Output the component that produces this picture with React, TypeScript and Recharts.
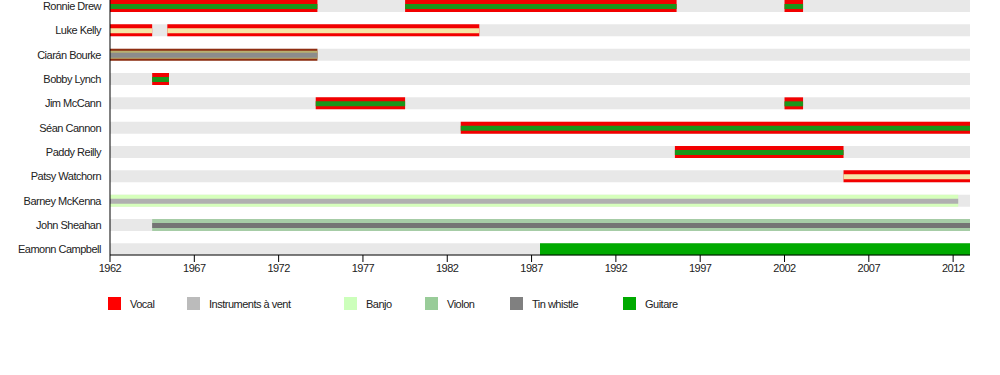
import React from "react";
import { Bar, BarChart, Cell, XAxis, YAxis } from "recharts";

// members, top to bottom
const members = [
  "Ronnie Drew",
  "Luke Kelly",
  "Ciarán Bourke",
  "Bobby Lynch",
  "Jim McCann",
  "Séan Cannon",
  "Paddy Reilly",
  "Patsy Watchorn",
  "Barney McKenna",
  "John Sheahan",
  "Eamonn Campbell",
];

// years in the band (start, end), up to three stints per member
const firstStint: ([number, number] | null)[] = [
  [1962, 1974.3],
  [1962, 1964.5],
  [1962, 1974.3],
  [1964.5, 1965.5],
  [1974.2, 1979.5],
  [1982.8, 2013],
  [1995.5, 2005.5],
  [2005.5, 2013],
  [1962, 2012.3],
  [1964.5, 2013],
  [1987.5, 2013],
];
const secondStint: ([number, number] | null)[] = [
  [1979.5, 1995.6],
  [1965.4, 1983.9],
  null,
  null,
  [2002, 2003.1],
  null,
  null,
  null,
  null,
  null,
  null,
];
const thirdStint: ([number, number] | null)[] = [
  [2002, 2003.1],
  null, null, null, null, null, null, null, null, null, null,
];

const timeSpan: [number, number] = [1962, 2013];
const yearTicks = [1962, 1967, 1972, 1977, 1982, 1987, 1992, 1997, 2002, 2007, 2012];

const legendItems = ["Vocal", "Instruments à vent", "Banjo", "Violon", "Tin whistle", "Guitare"];
const legendColors = ["#ff0000", "#bbbbbb", "#ccffbb", "#99cc99", "#808080", "#00aa00"];

// bar colours per member: outer / middle / inner stripe
const ROW_STYLE: Record<string, { outer: string; mid?: string; inner?: string }> = {
  "Ronnie Drew": { outer: "#f20000", inner: "#1a961a" },
  "Luke Kelly": { outer: "#f20000", inner: "#f5e6a8" },
  "Ciarán Bourke": { outer: "#8e2e12", mid: "#b8b070", inner: "#8c8c8c" },
  "Bobby Lynch": { outer: "#f20000", inner: "#1a961a" },
  "Jim McCann": { outer: "#f20000", inner: "#1a961a" },
  "Séan Cannon": { outer: "#f20000", inner: "#1a961a" },
  "Paddy Reilly": { outer: "#f20000", inner: "#1a961a" },
  "Patsy Watchorn": { outer: "#f20000", inner: "#f5e6a8" },
  "Barney McKenna": { outer: "#d6ffbc", inner: "#b0b0b0" },
  "John Sheahan": { outer: "#a6cca6", inner: "#747474" },
  "Eamonn Campbell": { outer: "#00aa00" },
};

const LEGEND_WIDTHS = [79, 157, 81, 85, 113, 80];
const FONT = "'Liberation Sans', Arial, sans-serif";

const rows = members.map((name, i) => ({
  name,
  bg: timeSpan,
  o1: firstStint[i] ?? undefined,
  o2: secondStint[i] ?? undefined,
  o3: thirdStint[i] ?? undefined,
  m1: ROW_STYLE[name].mid ? firstStint[i] ?? undefined : undefined,
  i1: ROW_STYLE[name].inner ? firstStint[i] ?? undefined : undefined,
  i2: ROW_STYLE[name].inner ? secondStint[i] ?? undefined : undefined,
  i3: ROW_STYLE[name].inner ? thirdStint[i] ?? undefined : undefined,
}));

const LAYERS: { key: string; size: number; part: "bg" | "outer" | "mid" | "inner" }[] = [
  { key: "bg", size: 12, part: "bg" },
  { key: "o1", size: 12, part: "outer" },
  { key: "o2", size: 12, part: "outer" },
  { key: "o3", size: 12, part: "outer" },
  { key: "m1", size: 8, part: "mid" },
  { key: "i1", size: 5, part: "inner" },
  { key: "i2", size: 5, part: "inner" },
  { key: "i3", size: 5, part: "inner" },
];

const yPadding = { top: 0, bottom: -6.7 };

// plain svg label, no wrapping
function MemberTick(props: any) {
  const { x, y, payload } = props;
  return (
    <text
      x={x}
      y={y}
      dy="0.355em"
      textAnchor="end"
      fontSize={11}
      fill="#222"
      letterSpacing={-0.5}
      fontFamily={FONT}
    >
      {payload.value}
    </text>
  );
}

export default function App() {
  return (
    <div
      style={{
        position: "absolute",
        left: 0,
        top: 0,
        width: 1000,
        height: 375,
        overflow: "hidden",
        background: "#fff",
        fontFamily: FONT,
      }}
    >
      <div style={{ position: "absolute", left: 0, top: -20 }}>
        <BarChart
          width={1000}
          height={310}
          data={rows}
          layout="vertical"
          margin={{ top: 14, right: 30, bottom: 5, left: 0 }}
        >
          <XAxis
            type="number"
            domain={timeSpan}
            ticks={yearTicks}
            allowDataOverflow
            stroke="#000"
            tickSize={7}
            tickMargin={2}
            height={30}
            tick={{ fontSize: 11, fill: "#222", letterSpacing: -0.5, fontFamily: FONT }}
          />
          {LAYERS.map((l) => (
            <YAxis
              key={"ax-" + l.key}
              yAxisId={l.key}
              type="category"
              dataKey="name"
              padding={yPadding}
              width={0}
              orientation="right"
              hide
            />
          ))}
          <YAxis
            yAxisId="main"
            type="category"
            dataKey="name"
            width={110}
            padding={yPadding}
            stroke="#000"
            tickLine={false}
            tickSize={0}
            tickMargin={9}
            interval={0}
            tick={<MemberTick />}
          />
          {LAYERS.map((l) => (
            <Bar
              key={l.key}
              dataKey={l.key}
              yAxisId={l.key}
              barSize={l.size}
              isAnimationActive={false}
            >
              {rows.map((r) => {
                const s = ROW_STYLE[r.name];
                const fill =
                  l.part === "bg"
                    ? "#e8e8e8"
                    : l.part === "outer"
                    ? s.outer
                    : l.part === "mid"
                    ? s.mid ?? "none"
                    : s.inner ?? "none";
                return <Cell key={r.name} fill={fill} />;
              })}
            </Bar>
          ))}
        </BarChart>
      </div>
      <div
        style={{
          position: "absolute",
          left: 108,
          top: 297,
          display: "flex",
          fontSize: 11,
          letterSpacing: -0.5,
          color: "#222",
        }}
      >
        {legendItems.map((label, i) => (
          <div
            key={label}
            style={{ width: LEGEND_WIDTHS[i], display: "flex", alignItems: "center" }}
          >
            <span
              style={{
                width: 13,
                height: 13,
                background: legendColors[i],
                display: "inline-block",
                marginRight: 9,
              }}
            />
            <span>{label}</span>
          </div>
        ))}
      </div>
    </div>
  );
}
